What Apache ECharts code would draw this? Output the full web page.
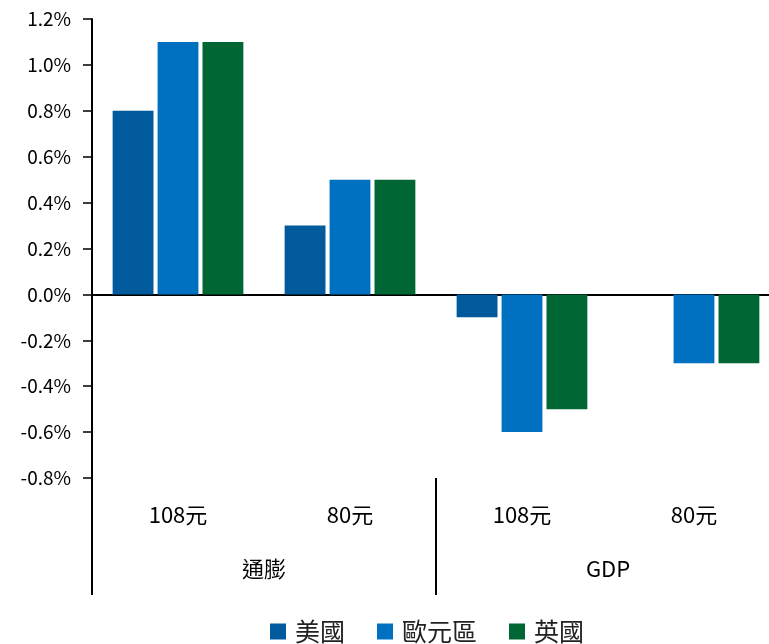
<!DOCTYPE html>
<html>
<head>
<meta charset="utf-8">
<script src="https://cdn.jsdelivr.net/npm/echarts@6/dist/echarts.min.js"></script>
<style>
html,body{margin:0;padding:0;background:#fff;}
#chart{width:769px;height:644px;}
</style>
</head>
<body>
<div id="chart"></div>
<script>
var categories = ['108元', '80元', '108元', '80元'];
var groups = ['通膨', 'GDP'];
var seriesNames = ['美國', '歐元區', '英國'];
var usData = [0.8, 0.3, -0.1, 0];
var euroData = [1.1, 0.5, -0.6, -0.3];
var ukData = [1.1, 0.5, -0.5, -0.3];

var font = '"Noto Sans CJK TC", "Noto Sans", sans-serif';
var myChart = echarts.init(document.getElementById('chart'));

var option = {
    color: ['#005a9c', '#0070c0', '#006633'],
    textStyle: { fontFamily: font },
    // plot area runs a little past the right edge, like the original
    grid: { left: 92, width: 688, top: 19, height: 459, outerBoundsMode: 'none', containLabel: false },
    legend: {
        data: seriesNames,
        left: 265,
        top: 614,
        itemWidth: 16,
        itemHeight: 16,
        itemGap: 32,
        icon: 'rect',
        textStyle: { fontSize: 25, color: '#222', fontFamily: font, padding: [0, 0, 0, 4] }
    },
    xAxis: [
        {
            type: 'category',
            data: categories,
            axisLine: { onZero: true, lineStyle: { color: '#000', width: 2 } },
            axisTick: { show: false },
            axisLabel: { show: false }
        },
        {
            type: 'category',
            data: categories,
            position: 'bottom',
            axisLine: { show: false, onZero: false },
            axisTick: { show: false },
            axisLabel: { margin: 26, fontSize: 22, color: '#000', fontFamily: font }
        },
        {
            type: 'category',
            data: groups,
            position: 'bottom',
            axisLine: { show: false, onZero: false },
            axisTick: { show: true, length: 117, lineStyle: { color: '#000', width: 2 } },
            axisLabel: { margin: 80, fontSize: 22, color: '#000', fontFamily: font }
        }
    ],
    yAxis: {
        type: 'value',
        min: -0.8,
        max: 1.2,
        interval: 0.2,
        axisLine: { show: true, lineStyle: { color: '#000', width: 2 } },
        axisTick: { show: true, length: 9, lineStyle: { color: '#000', width: 1.5 } },
        splitLine: { show: false },
        axisLabel: {
            margin: 21,
            fontSize: 19,
            color: '#000',
            fontFamily: font,
            formatter: function (v) { return v.toFixed(1) + '%'; }
        }
    },
    series: [
        { name: seriesNames[0], type: 'bar', data: usData, barGap: '10%', barCategoryGap: '24%' },
        { name: seriesNames[1], type: 'bar', data: euroData, barGap: '10%', barCategoryGap: '24%' },
        { name: seriesNames[2], type: 'bar', data: ukData, barGap: '10%', barCategoryGap: '24%' }
    ]
};
myChart.setOption(option);
</script>
</body>
</html>
